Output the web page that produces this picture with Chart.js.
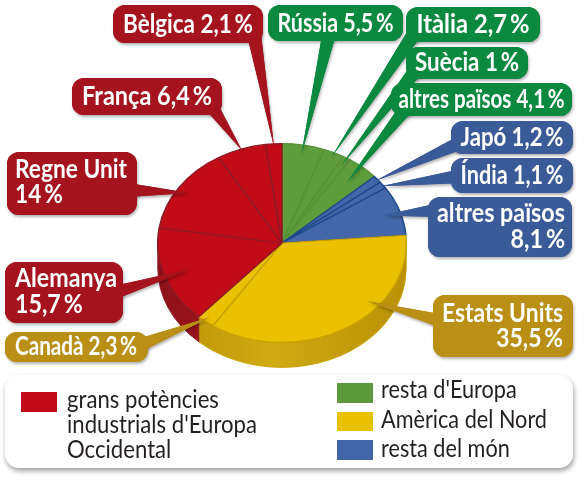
<!DOCTYPE html>
<html><head><meta charset="utf-8">
<script src="https://cdn.jsdelivr.net/npm/chart.js@4.4.1/dist/chart.umd.min.js"></script>
<style>html,body{margin:0;padding:0;background:#fff}canvas{display:block}</style>
</head><body>
<canvas id="c" width="586" height="480"></canvas>
<script>
// ---------- DATA ----------
const categories = ['Rússia','Itàlia','Suècia','altres països','Japó','Índia','altres països','Estats Units','Canadà','Alemanya','Regne Unit','França','Bèlgica'];
const values     = [5.5, 2.7, 1, 4.1, 1.2, 1.1, 8.1, 35.5, 2.3, 15.7, 14, 6.4, 2.1];
const groups     = ['europa','europa','europa','europa','mon','mon','mon','america','america','grans','grans','grans','grans'];
const legendGroups = ['grans','europa','america','mon'];
const legendTexts  = [['grans potències',"industrials d'Europa",'Occidental'],["resta d'Europa"],['Amèrica del Nord'],['resta del món']];

// ---------- STYLE ----------
const topColor  = {grans:'#c10c18', europa:'#5f9c3b', mon:'#4467a9', america:'#e9c100'};
const edgeColor = {grans:'#8c1a26', europa:'#57913a', mon:'#1d4a8c', america:'#c9a000'};
const sideColor = {grans:['#8e121b','#a8141f'], europa:['#3f7a25','#4f8a30'], mon:['#2a4c8a','#34599b'], america:['#b89106','#d0ab12']};
const boxColor  = {grans:'#a5141e', europa:'#0b8a3f', mon:'#3b5b98', america:'#b98f16'};
const legendColor = {grans:'#c00a17', europa:'#5c9a3c', america:'#e9c100', mon:'#4065a8'};
const SY = 0.8, DEPTH = 25;
const LABEL_FONT = 'bold 26px Lato,"Open Sans",sans-serif';
const LEGEND_FONT = '25px Lato,"Open Sans",sans-serif';

// callout layout (index-aligned with categories)
const callouts = [
 {box:[268,5,135,36],  multi:false, align:'center', tx:335.5, ty:[32],      tw:116, base:[330,30],  f:0.9},
 {box:[406,7,134,35],  multi:false, align:'center', tx:473,   ty:[33],      tw:113, base:[414,34],  f:0.95},
 {box:[406,47,122,32], multi:false, align:'center', tx:467,   ty:[71],      tw:104, base:[416,70],  f:0.92},
 {box:[391,83,181,33], multi:false, align:'center', tx:481.5, ty:[108],     tw:166, base:[408,106], f:0.8},
 {box:[451,121,122,33],multi:false, align:'center', tx:512,   ty:[146],     tw:103, base:[462,142], f:0.98},
 {box:[451,158,122,35],multi:false, align:'center', tx:512,   ty:[184],     tw:103, base:[462,176], f:0.98},
 {box:[428,197,144,60],multi:true,  align:'right',  tx:565,   ty:[222,248], tw:128, base:[440,210], f:0.85},
 {box:[433,295,140,62],multi:true,  align:'right',  tx:563,   ty:[322,347], tw:121, base:[445,322], f:0.9, frac:0.35},
 {box:[5,332,143,30],  multi:false, align:'left',   tx:15,    ty:[355],     tw:122, base:[135,347], f:0.95},
 {box:[5,262,118,61],  multi:true,  align:'left',   tx:15,    ty:[287,313], tw:102, base:[110,294], f:0.78},
 {box:[7,152,130,63],  multi:true,  align:'left',   tx:15,    ty:[178,203], tw:112, base:[128,190], f:0.9},
 {box:[72,78,150,37],  multi:false, align:'center', tx:147,   ty:[105],     tw:130, base:[210,104], f:0.99},
 {box:[113,5,150,38],  multi:false, align:'center', tx:188,   ty:[33],      tw:130, base:[254,34],  f:0.97}
];

function pct(v){ return String(v).replace('.', ',') + '\u2009%'; }

function rr(ctx,x,y,w,h,r){
  ctx.beginPath();
  ctx.moveTo(x+r,y); ctx.lineTo(x+w-r,y); ctx.arcTo(x+w,y,x+w,y+r,r);
  ctx.lineTo(x+w,y+h-r); ctx.arcTo(x+w,y+h,x+w-r,y+h,r);
  ctx.lineTo(x+r,y+h); ctx.arcTo(x,y+h,x,y+h-r,r);
  ctx.lineTo(x,y+r); ctx.arcTo(x,y,x+r,y,r); ctx.closePath();
}

function fitText(ctx, lines, font, tw, align, tx, tys){
  ctx.font = font;
  let maxW = 0; lines.forEach(l=>{ maxW = Math.max(maxW, ctx.measureText(l).width); });
  const s = Math.min(1.15, tw / maxW);
  lines.forEach((l,i)=>{
    const w = ctx.measureText(l).width * s;
    let x = tx;
    if (align==='center') x = tx - w/2; else if (align==='right') x = tx - w;
    ctx.save(); ctx.translate(x, tys[i]); ctx.scale(s,1);
    ctx.textAlign='left'; ctx.textBaseline='alphabetic';
    ctx.fillText(l, 0, 0); ctx.restore();
  });
}

const pie3d = {
  id:'pie3d',
  beforeDatasetsDraw(chart){
    const ctx = chart.ctx, meta = chart.getDatasetMeta(0);
    const a0 = meta.data[0], cx=a0.x, cy=a0.y, r=a0.outerRadius;
    ctx.save();
    ctx.translate(cx,cy); ctx.scale(1,SY);
    const d = DEPTH/SY;
    meta.data.forEach((a,i)=>{
      const s = Math.max(a.startAngle, 0), e = Math.min(a.endAngle, Math.PI);
      if (e <= s) return;
      const g = groups[i];
      const grad = ctx.createLinearGradient(-r,0,r,0);
      grad.addColorStop(0, sideColor[g][0]);
      grad.addColorStop(0.45, sideColor[g][1]);
      grad.addColorStop(1, sideColor[g][0]);
      ctx.beginPath();
      ctx.arc(0,0,r,s,e);
      ctx.arc(0,d,r,e,s,true);
      ctx.closePath();
      ctx.fillStyle = grad; ctx.fill();
      ctx.lineWidth = 1; ctx.strokeStyle = edgeColor[g]; ctx.stroke();
    });
    ctx.restore();
    ctx.save();
    ctx.translate(cx,cy); ctx.scale(1,SY); ctx.translate(-cx,-cy);
  },
  afterDatasetsDraw(chart){ chart.ctx.restore(); }
};

const labelsPlugin = {
  id:'callouts',
  afterDraw(chart){
    const ctx = chart.ctx, meta = chart.getDatasetMeta(0);
    // legend box
    ctx.save();
    ctx.shadowColor='rgba(0,0,0,0.38)'; ctx.shadowBlur=5; ctx.shadowOffsetX=1; ctx.shadowOffsetY=3;
    ctx.fillStyle='#ffffff'; rr(ctx,5,375,568,93,14); ctx.fill();
    ctx.restore();
    const sq = [[21,392,36,20],[337,383,36,20],[337,412,36,19],[337,440,36,20]];
    const lx = [[67,[408,433,458]],[381,[398]],[381,[428]],[381,[457]]];
    ctx.save();
    ctx.font = LEGEND_FONT;
    const rightScale = 166 / ctx.measureText('Amèrica del Nord').width;
    const leftScale = 190 / ctx.measureText("industrials d'Europa").width;
    legendGroups.forEach((g,i)=>{
      ctx.fillStyle = legendColor[g]; ctx.fillRect(...sq[i]);
      ctx.fillStyle = '#231f20';
      const sc = i===0 ? leftScale : rightScale;
      legendTexts[i].forEach((t,j)=>{
        ctx.save(); ctx.translate(lx[i][0], lx[i][1][j]); ctx.scale(sc,1);
        ctx.fillText(t,0,0); ctx.restore();
      });
    });
    ctx.restore();

    // callouts
    const a0 = meta.data[0], cx=a0.x, cy=a0.y, r=a0.outerRadius;
    callouts.forEach((c,i)=>{
      const a = meta.data[i];
      const fr = c.frac!==undefined ? c.frac : 0.5;
      const ang = a.startAngle + (a.endAngle - a.startAngle)*fr;
      const tipX = cx + Math.cos(ang)*r*c.f, tipY = cy + Math.sin(ang)*r*c.f*SY;
      const [bx,by] = c.base;
      const dx = tipX-bx, dy = tipY-by, L = Math.hypot(dx,dy);
      const nx = -dy/L*7, ny = dx/L*7;
      const col = boxColor[groups[i]];
      ctx.save();
      ctx.shadowColor='rgba(0,0,0,0.3)'; ctx.shadowBlur=3; ctx.shadowOffsetX=1; ctx.shadowOffsetY=2;
      ctx.fillStyle = col;
      ctx.beginPath(); ctx.moveTo(bx+nx,by+ny); ctx.lineTo(tipX,tipY); ctx.lineTo(bx-nx,by-ny); ctx.closePath(); ctx.fill();
      rr(ctx,c.box[0],c.box[1],c.box[2],c.box[3],12); ctx.fill();
      ctx.restore();
      ctx.save();
      ctx.fillStyle = col;
      ctx.beginPath(); ctx.moveTo(bx+nx,by+ny); ctx.lineTo(tipX,tipY); ctx.lineTo(bx-nx,by-ny); ctx.closePath(); ctx.fill();
      rr(ctx,c.box[0],c.box[1],c.box[2],c.box[3],12); ctx.fill();
      ctx.fillStyle = '#ffffff';
      const lines = c.multi ? [categories[i], pct(values[i])] : [categories[i] + ' ' + pct(values[i])];
      fitText(ctx, lines, LABEL_FONT, c.tw, c.align, c.tx, c.ty);
      ctx.restore();
    });
  }
};

new Chart(document.getElementById('c').getContext('2d'), {
  type:'pie',
  data:{
    labels: categories,
    datasets:[{
      data: values,
      backgroundColor: groups.map(g=>topColor[g]),
      borderColor: groups.map(g=>edgeColor[g]),
      borderWidth: 1.5
    }]
  },
  options:{
    responsive:false, animation:false, events:[],
    layout:{padding:{left:157,right:179,top:118,bottom:112}},
    plugins:{legend:{display:false}, tooltip:{enabled:false}, title:{display:false}}
  },
  plugins:[pie3d, labelsPlugin]
});
</script>
</body></html>
